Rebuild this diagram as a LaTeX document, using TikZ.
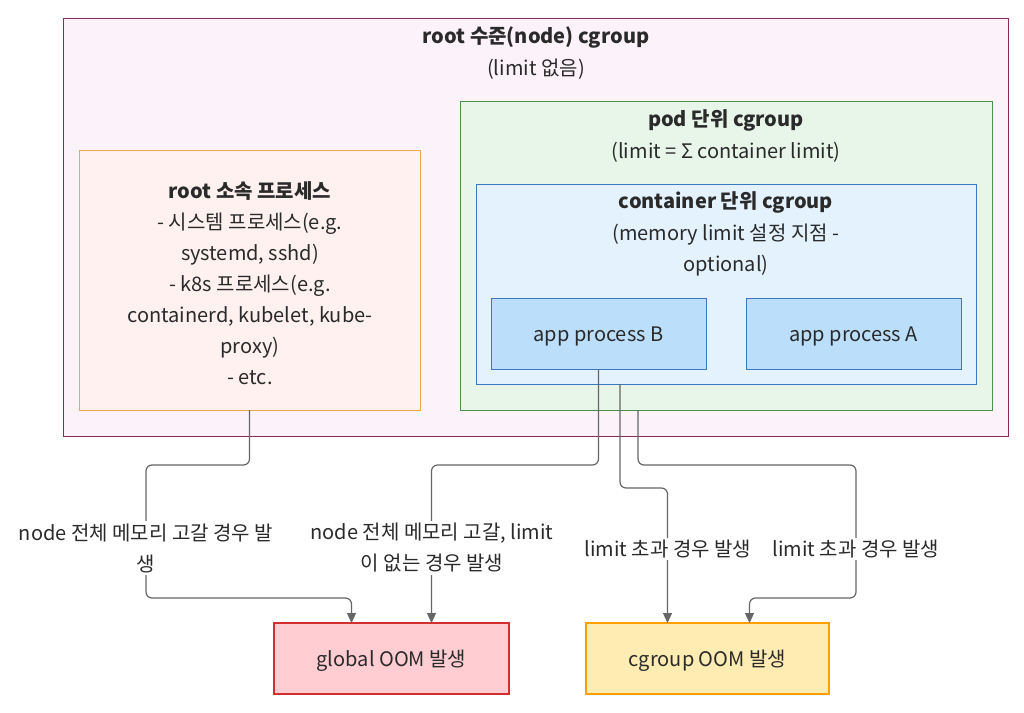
\documentclass[tikz,border=0pt]{standalone}
\usepackage{fontspec}
\setmainfont{Noto Sans CJK KR}
\usetikzlibrary{arrows.meta,calc}
\definecolor{txt}{HTML}{2A2A2A}
\definecolor{rootfill}{HTML}{FCF3FA}
\definecolor{rootdraw}{HTML}{8E2A5E}
\definecolor{lpfill}{HTML}{FFF1F0}
\definecolor{lpdraw}{HTML}{F5A54A}
\definecolor{podfill}{HTML}{E8F5E9}
\definecolor{poddraw}{HTML}{4E8F4E}
\definecolor{ctfill}{HTML}{E3F2FD}
\definecolor{ctdraw}{HTML}{3B78C2}
\definecolor{appfill}{HTML}{BBDEFB}
\definecolor{gfill}{HTML}{FFCDD2}
\definecolor{gdraw}{HTML}{D32F2F}
\definecolor{cgfill}{HTML}{FFECB3}
\definecolor{cgdraw}{HTML}{FFA000}
\definecolor{linec}{HTML}{666666}
\tikzset{
  box/.style={draw, line width=1pt, inner sep=0pt, outer sep=0pt},
  txtnode/.style={text=txt, font=\fontsize{20}{31}\selectfont, align=center, inner sep=0pt},
  conn/.style={draw=linec, line width=1.2pt, rounded corners=6pt, -{Triangle[length=10pt,width=9pt]}},
  lab/.style={txtnode, fill=white, inner sep=2pt},
}
\begin{document}
\begin{tikzpicture}[x=1pt,y=-1pt]
\useasboundingbox (0,0) rectangle (1024,712);
\fill[white] (0,0) rectangle (1024,712);
% root box
\draw[box, fill=rootfill, draw=rootdraw] (63,18) rectangle (1008,436);
\node[txtnode] (roott) at (536,37) {\textbf{root 수준(node) cgroup}};
\node[txtnode] (roots) at (536,69) {(limit 없음)};
% left box
\node[box, fill=lpfill, draw=lpdraw, minimum width=341pt, minimum height=260pt] (lp) at (249.5,280) {};
\node[txtnode] (lpt) at (250,283) {\textbf{root 소속 프로세스}\\- 시스템 프로세스(e.g.\\systemd, sshd)\\- k8s 프로세스(e.g.\\containerd, kubelet, kube-\\proxy)\\- etc.};
% pod box
\node[box, fill=podfill, draw=poddraw, minimum width=532pt, minimum height=309pt] (pod) at (726,255.5) {};
\node[txtnode] (podt) at (726,120) {\textbf{pod 단위 cgroup}};
\node[txtnode] (pods) at (726,152) {(limit = Σ container limit)};
% container box
\node[box, fill=ctfill, draw=ctdraw, minimum width=500pt, minimum height=200pt] (ct) at (726,284) {};
\node[txtnode] (ctt) at (726,202) {\textbf{container 단위 cgroup}};
\node[txtnode] (cts) at (726,250) {(memory limit 설정 지점 -\\optional)};
% apps
\node[box, fill=appfill, draw=ctdraw, minimum width=215pt, minimum height=71pt] (b) at (598.5,333.5) {};
\node[txtnode] (bt) at ($(b.center)+(0,2.5)$) {app process B};
\node[box, fill=appfill, draw=ctdraw, minimum width=215pt, minimum height=71pt] (a) at (853.5,333.5) {};
\node[txtnode] (at) at ($(a.center)+(0,2.5)$) {app process A};
% OOM boxes
\node[box, fill=gfill, draw=gdraw, line width=2pt, minimum width=235pt, minimum height=71pt] (g) at (391.5,658.5) {};
\node[txtnode] (gt) at ($(g.center)+(0,2.5)$) {global OOM 발생};
\node[box, fill=cgfill, draw=cgdraw, line width=2pt, minimum width=243pt, minimum height=71pt] (cg) at (707.5,658.5) {};
\node[txtnode] (cgt) at ($(cg.center)+(0,2.5)$) {cgroup OOM 발생};
% connectors
\draw[conn] (lp.south) -- ++(0,55) -| (146,598) -| ([xshift=-40pt]g.north);
\draw[conn] (b.south) -- ++(0,96) -| ([xshift=40pt]g.north);
\draw[conn] ([xshift=-106pt]ct.south) -- ++(0,104) -| ([xshift=-40pt]cg.north);
\draw[conn] ([xshift=-88pt]pod.south) -- ++(0,55) -| (856,598) -| ([xshift=42pt]cg.north);
% labels
\node[lab] (l1) at (146,548) {node 전체 메모리 고갈 경우 발\\생};
\node[lab] (l2) at (432,548) {node 전체 메모리 고갈, limit\\이 없는 경우 발생};
\node[lab] (l3) at (668,549) {limit 초과 경우 발생};
\node[lab] (l4) at (856,549) {limit 초과 경우 발생};
\end{tikzpicture}
\end{document}
